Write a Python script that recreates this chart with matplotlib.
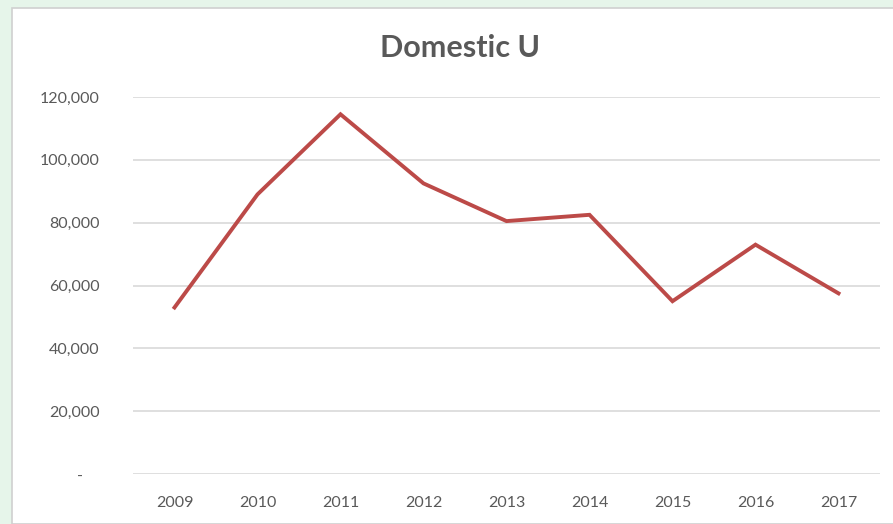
import matplotlib.pyplot as plt
from matplotlib.patches import Rectangle
from matplotlib.ticker import FuncFormatter

# Data
years = ['2009', '2010', '2011', '2012', '2013', '2014', '2015', '2016', '2017']
values = [53000, 89000, 114500, 92500, 80500, 82500, 55000, 73000, 57500]
yticks = [0, 20000, 40000, 60000, 80000, 100000, 120000]

plt.rcParams['font.family'] = ['Lato', 'DejaVu Sans']

W, H = 893, 524
fig = plt.figure(figsize=(W / 100, H / 100), dpi=100)
fig.patch.set_facecolor('#e6f5ea')

# white chart area with grey border
fig.patches.append(Rectangle((12 / W, 0), 1, 1 - 8 / H, transform=fig.transFigure,
                             facecolor='white', edgecolor='#d0d0d0', linewidth=1.2, zorder=-10))

ax = fig.add_axes([133 / W, 1 - 474 / H, 747 / W, (474 - 97) / H])
ax.set_facecolor('none')

x = list(range(len(years)))
ax.plot(x, values, color='#bc4a48', linewidth=2.8, solid_joinstyle='miter', zorder=3)

ax.set_xlim(-0.5, len(years) - 0.5)
ax.set_ylim(0, 120000)
ax.set_yticks(yticks)
ax.yaxis.set_major_formatter(FuncFormatter(lambda v, p: '-    ' if v == 0 else f'{int(v):,}'))
ax.set_xticks(x)
ax.set_xticklabels(years)

ax.grid(axis='y', color='#d9d9d9', linewidth=1.2)
ax.set_axisbelow(True)
for s in ax.spines.values():
    s.set_visible(False)
ax.tick_params(length=0, colors='#595959', labelsize=11.5)
ax.tick_params(axis='y', pad=24)
ax.tick_params(axis='x', pad=16)

fig.text(460 / W, 1 - 48 / H, 'Domestic U', ha='center', va='center',
         fontsize=22, fontweight='bold', color='#595959')

fig.savefig('out.png', dpi=100, facecolor=fig.get_facecolor())
